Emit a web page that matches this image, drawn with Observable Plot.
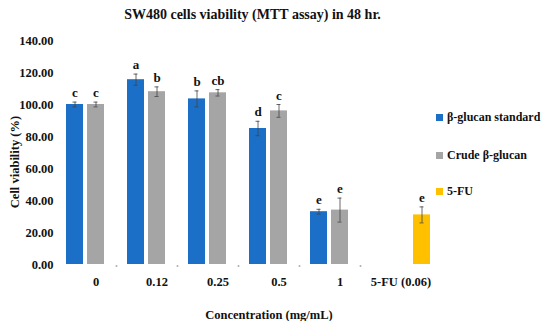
<!DOCTYPE html>
<html><head><meta charset="utf-8">
<script src="https://cdn.jsdelivr.net/npm/d3@7"></script>
<script src="https://cdn.jsdelivr.net/npm/@observablehq/plot@0.6"></script>
<style>
body{margin:0;background:#fff;overflow:hidden;}
#wrap{position:relative;width:550px;height:321px;font-family:"Liberation Serif",serif;font-weight:bold;color:#111;}
#wrap svg{display:block;}
.abs{position:absolute;white-space:nowrap;}
#title{left:0;width:505px;top:7px;text-align:center;font-size:14px;line-height:16px;}
#xtitle{left:0;width:538px;top:309px;text-align:center;font-size:12.5px;line-height:12px;}
#ytitle{left:15px;top:162px;font-size:12.5px;line-height:16px;transform:translate(-50%,-50%) rotate(-90deg);}
.leg{font-size:12px;line-height:14px;}
.sw{display:inline-block;width:7px;height:7px;margin-right:4px;vertical-align:0px;}
</style></head><body><div id="wrap"></div>
<script>
const groups = ["0","0.12","0.25","0.5","1","5-FU (0.06)"];
const series = ["β-glucan standard","Crude β-glucan","5-FU"];
const colors = ["#1b6fc6","#a5a5a5","#ffc000"];
const standardMean = [100,115.5,103.5,85,33,null];
const standardErr = [1.5,3.5,5,4.5,1.5,null];
const standardLetter = ["c","a","b","d","e",null];
const crudeMean = [100,108,107.3,96,34,null];
const crudeErr = [1.5,3,2,4,7.5,null];
const crudeLetter = ["c","b","cb","c","e",null];
const fuMean = [0,0,0,0,0,31];
const fuErr = [0,0,0,0,0,5];
const fuLetter = [null,null,null,null,null,"e"];
const yTicks = [0,20,40,60,80,100,120,140];

const rows = [];
[[standardMean,standardErr,standardLetter],[crudeMean,crudeErr,crudeLetter],[fuMean,fuErr,fuLetter]].forEach(([m,e,l],si)=>{
  groups.forEach((g,gi)=>{
    if (m[gi] == null) return;
    rows.push({group:g, series:series[si], value:m[gi], err:e[gi], letter:l[gi]});
  });
});

const chart = Plot.plot({
  width:550, height:321,
  marginLeft:65, marginRight:119, marginTop:40, marginBottom:57,
  style:{fontFamily:'"Liberation Serif", serif', fontWeight:'bold', fontSize:'12.5px', color:'#111', background:'#fff'},
  fx:{domain:groups, padding:0, label:null, tickSize:0, tickPadding:13, axis:"bottom"},
  x:{domain:series, paddingInner:0.2, paddingOuter:0, axis:null},
  y:{domain:[0,140], ticks:yTicks, tickFormat:d=>d.toFixed(2), tickSize:0, tickPadding:12, label:null},
  color:{domain:series, range:colors},
  marks:[
    Plot.barY(rows.filter(d=>d.value>0), {fx:"group", x:"series", y:"value", fill:"series"}),
    Plot.ruleX(rows.filter(d=>d.err>0), {fx:"group", x:"series", y1:d=>d.value-d.err, y2:d=>d.value+d.err, stroke:"#444", strokeWidth:0.8}),
    Plot.tickY(rows.filter(d=>d.err>0), {fx:"group", x:"series", y:d=>d.value+d.err, insetLeft:6.5, insetRight:6.5, stroke:"#444", strokeWidth:0.8}),
    Plot.tickY(rows.filter(d=>d.err>0), {fx:"group", x:"series", y:d=>d.value-d.err, insetLeft:6.5, insetRight:6.5, stroke:"#444", strokeWidth:0.8}),
    Plot.tickY(rows.filter(d=>d.err===0), {fx:"group", x:"series", y:"value", dy:1.5, insetLeft:7.7, insetRight:7.7, stroke:"#666", strokeWidth:1}),
    Plot.text(rows.filter(d=>d.letter), {fx:"group", x:"series", y:d=>d.value+d.err, text:"letter", dy:-9, fontSize:13, fill:"#111"})
  ]
});

const wrap = document.getElementById("wrap");
wrap.appendChild(chart);
const mk = (id, cls, txt) => { const d = document.createElement("div"); if (id) d.id = id; d.className = cls; d.textContent = txt; wrap.appendChild(d); return d; };
mk("title","abs","SW480 cells viability (MTT assay) in 48 hr.");
mk("xtitle","abs","Concentration (mg/mL)");
mk("ytitle","abs","Cell viability (%)");
const legY = [117,155,191];
series.forEach((s,i)=>{
  const d = document.createElement("div");
  d.className = "abs leg";
  d.style.left = "436px";
  d.style.top = (legY[i]-7)+"px";
  const sw = document.createElement("span");
  sw.className = "sw"; sw.style.background = colors[i];
  d.appendChild(sw);
  d.appendChild(document.createTextNode(s));
  wrap.appendChild(d);
});
</script></body></html>
